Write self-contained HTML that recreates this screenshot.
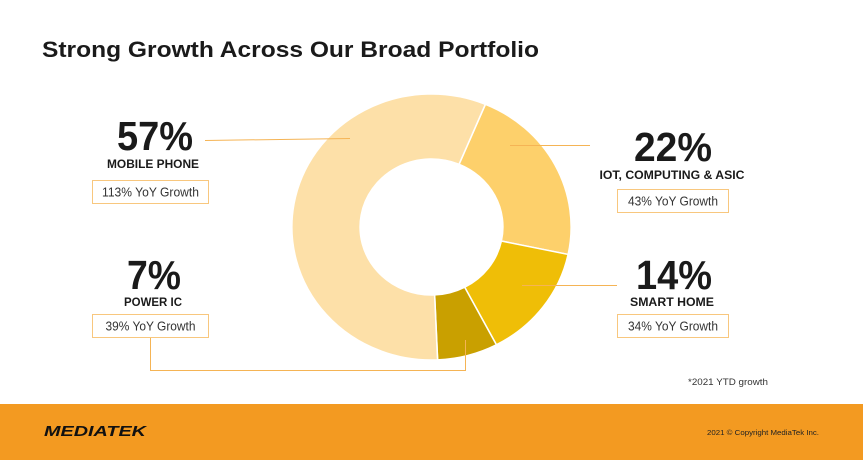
<!DOCTYPE html>
<html><head><meta charset="utf-8"><style>
html,body{margin:0;padding:0;background:#fff;}
svg{display:block;font-family:"Liberation Sans",sans-serif;}
</style></head><body>
<svg width="863" height="460" viewBox="0 0 863 460" xmlns="http://www.w3.org/2000/svg">
<rect width="863" height="460" fill="#fff"/>
<text x="42" y="57" font-size="22" font-weight="bold" fill="#1a1a1a" textLength="497" lengthAdjust="spacingAndGlyphs">Strong Growth Across Our Broad Portfolio</text>
<g id="donut" transform="translate(431.5,227) scale(1.05,1)"></g>
<g stroke="#F5B455" stroke-width="1" fill="none">
<line x1="205" y1="140.5" x2="350" y2="138.5"/>
<line x1="510" y1="145.5" x2="590" y2="145.5"/>
<line x1="522" y1="285.5" x2="617" y2="285.5"/>
<polyline points="150.5,338 150.5,370.5 465.5,370.5 465.5,340"/>
</g>
<g fill="#1a1a1a" font-weight="bold" text-anchor="middle">
<text x="155" y="150" font-size="41" textLength="76" lengthAdjust="spacingAndGlyphs">57%</text>
<text x="153" y="168" font-size="11.5" textLength="92" lengthAdjust="spacingAndGlyphs">MOBILE PHONE</text>
<text x="673" y="161" font-size="41" textLength="78" lengthAdjust="spacingAndGlyphs">22%</text>
<text x="672" y="179" font-size="11.5" textLength="145" lengthAdjust="spacingAndGlyphs">IOT, COMPUTING &amp; ASIC</text>
<text x="674" y="289" font-size="41" textLength="76" lengthAdjust="spacingAndGlyphs">14%</text>
<text x="672" y="306" font-size="11.5" textLength="84" lengthAdjust="spacingAndGlyphs">SMART HOME</text>
<text x="154" y="289" font-size="41" textLength="54" lengthAdjust="spacingAndGlyphs">7%</text>
<text x="153" y="306" font-size="11.5" textLength="58" lengthAdjust="spacingAndGlyphs">POWER IC</text>
</g>
<g fill="#fff" stroke="#F8C77E" stroke-width="1">
<rect x="92.5" y="180.5" width="116" height="23"/>
<rect x="617.5" y="189.5" width="111" height="23"/>
<rect x="617.5" y="314.5" width="111" height="23"/>
<rect x="92.5" y="314.5" width="116" height="23"/>
</g>
<g fill="#333" font-size="12.5" text-anchor="middle">
<text x="150.5" y="196.5" textLength="97" lengthAdjust="spacingAndGlyphs">113% YoY Growth</text>
<text x="673" y="205.5" textLength="90" lengthAdjust="spacingAndGlyphs">43% YoY Growth</text>
<text x="673" y="330.5" textLength="90" lengthAdjust="spacingAndGlyphs">34% YoY Growth</text>
<text x="150.5" y="330.5" textLength="90" lengthAdjust="spacingAndGlyphs">39% YoY Growth</text>
</g>
<text x="688" y="385" font-size="9" fill="#333" textLength="80" lengthAdjust="spacingAndGlyphs">*2021 YTD growth</text>
<rect x="0" y="404" width="863" height="56" fill="#F39A21"/>
<text x="44" y="436" font-size="15" font-weight="bold" font-style="italic" fill="#111" textLength="102" lengthAdjust="spacingAndGlyphs">MEDIATEK</text>
<text x="707" y="435" font-size="7.5" fill="#222" textLength="112" lengthAdjust="spacingAndGlyphs">2021 © Copyright MediaTek Inc.</text>
<script>
(function(){
var R=133,r=68;
var segs=[[22.7,101.9,"#FDD06B"],[101.9,152.3,"#EFBE07"],[152.3,177.5,"#C9A000"],[177.5,382.7,"#FDE0A8"]];
function pt(a,rad){var t=(a-90)*Math.PI/180;return [rad*Math.cos(t),rad*Math.sin(t)];}
var g=document.getElementById("donut");var ns="http://www.w3.org/2000/svg";
segs.forEach(function(s){
var a0=s[0],a1=s[1],large=(a1-a0)>180?1:0;
var p0=pt(a0,R),p1=pt(a1,R),q1=pt(a1,r),q0=pt(a0,r);
var d="M"+p0+" A"+R+","+R+" 0 "+large+" 1 "+p1+" L"+q1+" A"+r+","+r+" 0 "+large+" 0 "+q0+" Z";
var p=document.createElementNS(ns,"path");p.setAttribute("d",d);p.setAttribute("fill",s[2]);
p.setAttribute("stroke","#fff");p.setAttribute("stroke-width","1.5");g.appendChild(p);
});
})();
</script>
</svg>
</body></html>
